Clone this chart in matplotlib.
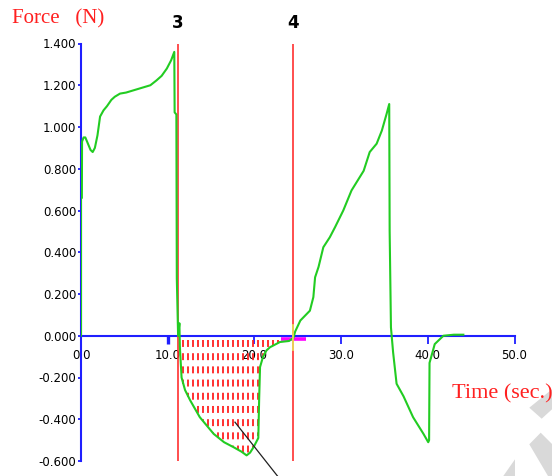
import numpy as np
import matplotlib
matplotlib.use('Agg')
import matplotlib.pyplot as plt
from matplotlib.patches import Polygon

plt.rcParams['axes.unicode_minus'] = False
plt.rcParams['lines.scale_dashes'] = False

# force trace: time (sec.) and force (N)
time_s = [0.0, 0.0, 0.1, 0.12, 0.3, 0.5, 0.8, 1.1, 1.35, 1.6, 1.9, 2.2, 2.6, 3.0,
          3.5, 3.9, 4.5, 5.2, 6.0, 7.2, 8.0, 8.7, 9.3, 9.9, 10.4, 10.76, 10.8,
          11.0, 11.05, 11.2, 11.35, 11.4, 11.6, 12.0, 12.6, 13.7, 15.3, 16.5,
          17.6, 18.5, 19.1, 19.5, 19.9, 20.45, 20.55, 20.65, 21.0, 21.4, 21.8,
          22.95, 24.0, 24.5, 24.7, 25.3, 26.4, 26.8, 27.0, 27.4, 27.95, 28.7,
          29.3, 30.25, 31.2, 32.6, 33.3, 34.1, 34.7, 35.25, 35.55, 35.6, 35.75,
          36.0, 36.4, 37.2, 38.3, 39.5, 40.05, 40.15, 40.2, 40.8, 41.8, 43.0, 44.1]
force_n = [0.0, 0.66, 0.66, 0.93, 0.95, 0.95, 0.92, 0.89, 0.88, 0.90, 0.96, 1.05,
           1.08, 1.10, 1.13, 1.145, 1.16, 1.165, 1.175, 1.19, 1.20, 1.223, 1.245,
           1.28, 1.32, 1.36, 1.07, 1.06, 0.275, 0.0, 0.06, -0.05, -0.2, -0.26,
           -0.31, -0.39, -0.47, -0.51, -0.534, -0.555, -0.573, -0.56, -0.534,
           -0.49, -0.3, -0.15, -0.10, -0.07, -0.055, -0.03, -0.025, -0.01, 0.02,
           0.073, 0.12, 0.185, 0.28, 0.33, 0.424, 0.472, 0.52, 0.60, 0.696, 0.79,
           0.88, 0.92, 0.983, 1.063, 1.11, 0.50, 0.04, -0.08, -0.23, -0.29, -0.39,
           -0.47, -0.51, -0.50, -0.13, -0.04, 0.0, 0.005, 0.005]

marker_times = [11.15, 24.5]
marker_labels = ['3', '4']

area_start, area_end = 11.8, 22.9

x_ticks = [0, 10, 20, 30, 40, 50]
y_ticks = [-0.6, -0.4, -0.2, 0.0, 0.2, 0.4, 0.6, 0.8, 1.0, 1.2, 1.4]

W, H = 552, 476
fig = plt.figure(figsize=(W / 100, H / 100), dpi=100)
ax = fig.add_axes([81 / W, 1 - 461 / H, (514.5 - 81) / W, (461 - 43.5) / H])
ax.set_xlim(0, 50)
ax.set_ylim(-0.6, 1.4)

blue = '#1f1fff'
for side in ['top', 'right']:
    ax.spines[side].set_visible(False)
ax.spines['left'].set_color(blue)
ax.spines['left'].set_linewidth(1.5)
ax.spines['bottom'].set_color(blue)
ax.spines['bottom'].set_linewidth(1.5)
ax.spines['bottom'].set_position(('data', 0))

ax.set_xticks(x_ticks)
ax.set_yticks(y_ticks)
ax.set_xticklabels(['%.1f' % v for v in x_ticks])
ax.set_yticklabels(['%.3f' % v for v in y_ticks])
ax.tick_params(axis='x', direction='out', length=5.8, width=1.3, color=blue,
               pad=3.5, labelsize=8.5, labelcolor='black')
ax.tick_params(axis='y', direction='out', length=2.5, width=1.3, color=blue,
               pad=1, labelsize=8.5, labelcolor='black')
ax.xaxis.get_major_ticks()[1].tick1line.set_markeredgewidth(2.4)

# dashed hatching under the negative part between the two markers
hatch_x = np.arange(area_start, area_end, 0.577)
hatch_bottom = np.interp(hatch_x, time_s, force_n)
keep = hatch_bottom < -0.03
ax.vlines(hatch_x[keep], -0.022, hatch_bottom[keep], colors='#ff2020',
          linewidth=1.3, linestyles=(0, (5, 4.5)), zorder=2)

for t in marker_times:
    ax.axvline(t, color='#ff3030', lw=1.2, zorder=3)

ax.plot([23.1, 25.9], [-0.015, -0.015], color='#ff00ff', lw=2.6,
        solid_capstyle='butt', zorder=2.5)
ax.plot(time_s, force_n, color='#22cc22', lw=1.5, zorder=4)
ax.plot([24.5, 24.5], [0.05, -0.07], color='#e6e65a', lw=1.2, zorder=5)

# pointer line dropping out of the shaded area
ax.plot([17.76, 22.7], [-0.414, -0.674], color='#202020', lw=0.9,
        clip_on=False, zorder=5)

for t, lab in zip(marker_times, marker_labels):
    ax.text(t, 1.4 + 16 / 208.75, lab, ha='center', va='baseline',
            fontsize=12, fontweight='bold', color='black')

fig.text(12 / W, 1 - 23.5 / H, 'Force   (N)', color='#ff2020',
         family='Liberation Serif', fontsize=15, va='baseline', ha='left')
fig.text(452 / W, 1 - 398 / H, 'Time (sec.)', color='#ff2020',
         family='Liberation Serif', fontsize=16, va='baseline', ha='left')


def px(points):
    return [(x / W, 1 - y / H) for x, y in points]


gray = '#d9d9d9'
for shape in [
    [(529.3, 407.7), (552, 389.3), (552, 409.3), (541.7, 418.7)],
    [(529.3, 444.3), (540.7, 432.7), (552, 444.0), (552, 476), (548, 476)],
    [(515, 459.3), (503.3, 476), (515, 476)],
]:
    fig.patches.append(Polygon(px(shape), closed=True, transform=fig.transFigure,
                               facecolor=gray, edgecolor='none', zorder=0))

fig.savefig('out.png', dpi=100)
